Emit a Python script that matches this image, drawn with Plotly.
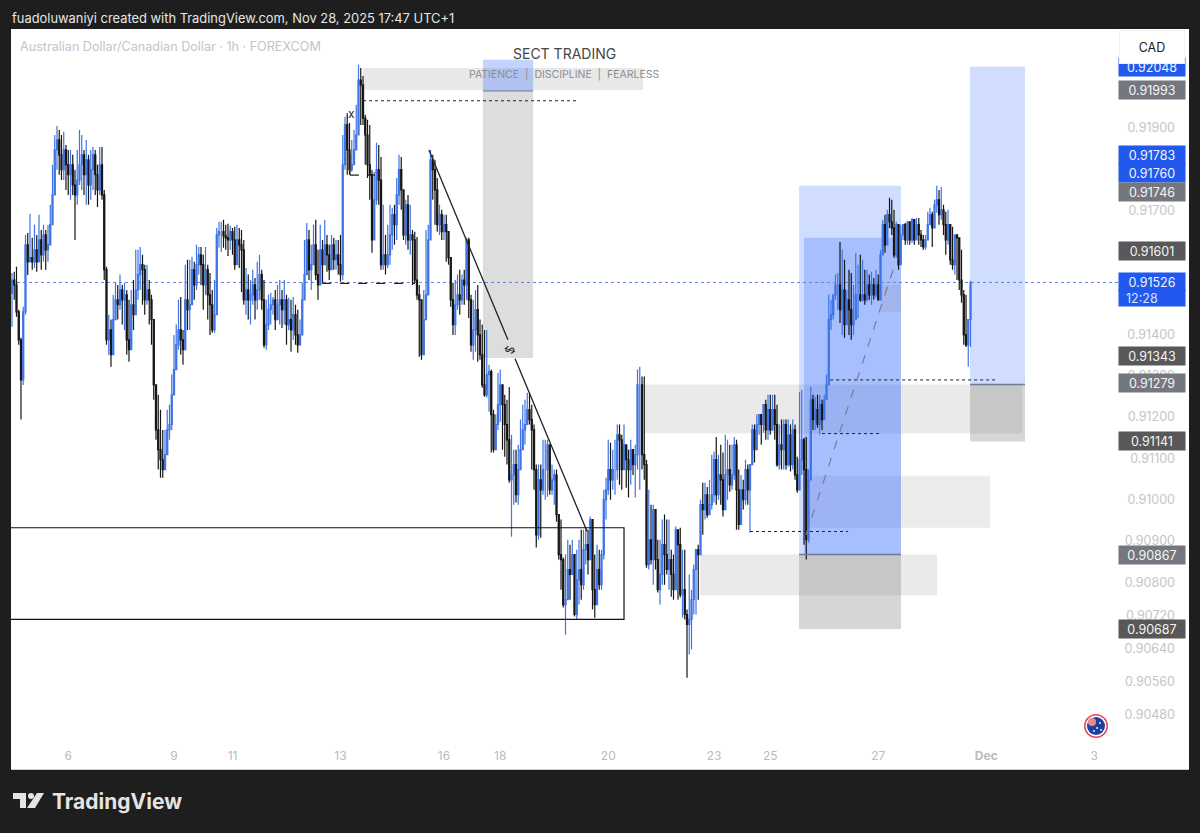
import plotly.graph_objects as go

# AUD/CAD 1h candles, price in points (1e-5), one row = 10 bars
close_a = [
    91532, 91520, 91455, 91387, 91290, 91455, 91617, 91576, 91586, 91576,
    91605, 91576, 91629, 91593, 91641, 91605, 91617, 91666, 91738, 91847,
    91871, 91835, 91799, 91847, 91811, 91787, 91811, 91762, 91738, 91774,
    91811, 91835, 91787, 91823, 91762, 91799, 91835, 91787, 91750, 91811,
    91738, 91557, 91387, 91411, 91351, 91436, 91484, 91472, 91508, 91484,
    91496, 91387, 91363, 91472, 91448, 91508, 91545, 91569, 91557, 91484,
    91508, 91484, 91436, 91278, 91169, 91121, 91097, 91073, 91109, 91169,
    91182, 91254, 91315, 91375, 91411, 91387, 91363, 91484, 91460, 91472,
    91557, 91520, 91569, 91593, 91569, 91520, 91557, 91496, 91472, 91411,
    91448, 91641, 91649, 91649, 91639, 91634, 91629, 91649, 91629, 91569,
    91629, 91617, 91605, 91484, 91508, 91484, 91496, 91520, 91484, 91508,
]
high_a = [
    91549, 91552, 91564, 91460, 91392, 91467, 91641, 91646, 91692, 91634,
    91666, 91641, 91690, 91653, 91666, 91653, 91666, 91714, 91811, 91883,
    91905, 91895, 91883, 91891, 91859, 91847, 91847, 91835, 91799, 91847,
    91895, 91883, 91847, 91871, 91835, 91847, 91854, 91847, 91811, 91854,
    91854, 91750, 91564, 91448, 91436, 91496, 91525, 91520, 91545, 91520,
    91525, 91508, 91484, 91508, 91532, 91605, 91605, 91612, 91593, 91569,
    91569, 91532, 91496, 91436, 91278, 91254, 91218, 91169, 91169, 91218,
    91230, 91303, 91399, 91424, 91484, 91491, 91411, 91569, 91581, 91581,
    91588, 91576, 91617, 91612, 91612, 91593, 91612, 91569, 91549, 91508,
    91532, 91658, 91673, 91673, 91678, 91666, 91668, 91663, 91658, 91661,
    91666, 91658, 91653, 91629, 91561, 91545, 91532, 91557, 91537, 91576,
]
low_a = [
    91419, 91484, 91443, 91375, 91194, 91278, 91448, 91544, 91576, 91557,
    91561, 91552, 91576, 91557, 91576, 91557, 91576, 91629, 91666, 91750,
    91799, 91787, 91774, 91774, 91750, 91738, 91726, 91738, 91629, 91714,
    91762, 91750, 91738, 91714, 91714, 91726, 91750, 91738, 91709, 91738,
    91726, 91532, 91375, 91351, 91322, 91387, 91436, 91436, 91460, 91424,
    91411, 91351, 91334, 91387, 91411, 91484, 91484, 91508, 91472, 91448,
    91472, 91424, 91375, 91242, 91145, 91073, 91053, 91053, 91077, 91145,
    91145, 91169, 91290, 91327, 91363, 91351, 91327, 91411, 91411, 91411,
    91501, 91484, 91508, 91545, 91520, 91460, 91496, 91436, 91399, 91404,
    91404, 91503, 91610, 91600, 91610, 91605, 91590, 91605, 91593, 91557,
    91576, 91561, 91503, 91472, 91448, 91436, 91424, 91472, 91436, 91460,
]

close_b = [
    91545, 91484, 91375, 91424, 91460, 91472, 91484, 91436, 91472, 91484,
    91460, 91484, 91424, 91436, 91411, 91448, 91399, 91375, 91399, 91484,
    91545, 91629, 91557, 91569, 91617, 91545, 91520, 91605, 91569, 91617,
    91593, 91557, 91617, 91581, 91593, 91569, 91545, 91811, 91908, 91847,
    91799, 91811, 91847, 91883, 92016, 92004, 91924, 91883, 91811, 91787,
    91629, 91726, 91799, 91774, 91569, 91593, 91569, 91593, 91641, 91690,
    91666, 91738, 91799, 91750, 91641, 91714, 91629, 91641, 91629, 91532,
    91496, 91484, 91351, 91436, 91496, 91629, 91823, 91799, 91750, 91666,
    91690, 91649, 91666, 91649, 91586, 91484, 91424, 91472, 91496, 91484,
    91532, 91520, 91629, 91484, 91375, 91411, 91460, 91399, 91351, 91278,
    91254, 91303, 91310, 91206, 91121, 91182, 91230, 91278, 91230, 91182,
]
high_b = [
    91593, 91557, 91532, 91484, 91496, 91501, 91491, 91508, 91520, 91532,
    91508, 91532, 91496, 91489, 91484, 91491, 91472, 91460, 91436, 91525,
    91629, 91670, 91653, 91617, 91666, 91678, 91605, 91666, 91629, 91678,
    91641, 91617, 91641, 91634, 91629, 91629, 91641, 91883, 91927, 91936,
    91912, 91871, 91895, 91956, 92053, 92045, 92026, 91932, 91920, 91907,
    91799, 91794, 91864, 91859, 91830, 91714, 91641, 91666, 91714, 91707,
    91714, 91779, 91835, 91830, 91743, 91726, 91738, 91714, 91653, 91649,
    91636, 91520, 91484, 91508, 91653, 91666, 91847, 91835, 91823, 91779,
    91714, 91702, 91690, 91690, 91636, 91581, 91525, 91532, 91545, 91557,
    91545, 91557, 91634, 91634, 91496, 91484, 91508, 91520, 91436, 91424,
    91411, 91411, 91327, 91315, 91218, 91206, 91307, 91315, 91254, 91254,
]
low_b = [
    91484, 91460, 91368, 91363, 91411, 91424, 91448, 91411, 91436, 91424,
    91416, 91424, 91375, 91411, 91358, 91387, 91375, 91356, 91387, 91399,
    91532, 91545, 91532, 91508, 91569, 91532, 91484, 91525, 91525, 91569,
    91552, 91532, 91569, 91557, 91557, 91545, 91528, 91532, 91799, 91787,
    91787, 91794, 91823, 91871, 91883, 91907, 91907, 91811, 91779, 91726,
    91598, 91629, 91714, 91714, 91557, 91557, 91545, 91561, 91569, 91605,
    91617, 91629, 91714, 91702, 91629, 91617, 91605, 91593, 91520, 91525,
    91484, 91346, 91339, 91436, 91484, 91629, 91738, 91726, 91666, 91649,
    91641, 91629, 91629, 91576, 91569, 91467, 91399, 91399, 91460, 91448,
    91472, 91472, 91484, 91440, 91358, 91339, 91358, 91334, 91339, 91271,
    91249, 91247, 91213, 91114, 91114, 91145, 91169, 91189, 91121, 91104,
]

close_c = [
    91145, 91048, 91060, 91085, 91012, 91073, 91121, 91169, 91182, 91218,
    91194, 91169, 91073, 90915, 91048, 91024, 91073, 91073, 91133, 91024,
    91048, 91060, 90964, 90867, 90855, 90746, 90758, 90831, 90819, 90867,
    90722, 90806, 90831, 90794, 90879, 90891, 90855, 90952, 90782, 90746,
    90831, 90794, 90867, 91000, 91024, 91073, 91048, 91073, 91073, 91157,
    91145, 91073, 91133, 91097, 91073, 91121, 91085, 91109, 91278, 91278,
    91109, 91085, 90843, 90903, 90855, 90976, 90855, 90782, 90819, 90891,
    90867, 90831, 90855, 90819, 90782, 90927, 90891, 90770, 90782, 90722,
    90698, 90710, 90758, 90831, 90879, 90867, 90988, 90976, 91012, 90964,
    90988, 91012, 91097, 91012, 91060, 91048, 90976, 91060, 91073, 91036,
    91060, 91133, 91024, 90940, 91024, 91000, 91073, 91024, 91085, 91169,
]
high_c = [
    91242, 91273, 91157, 91121, 91121, 91133, 91194, 91230, 91242, 91259,
    91259, 91230, 91182, 91085, 91085, 91085, 91145, 91145, 91145, 91133,
    91085, 91073, 91073, 90956, 90952, 90860, 90867, 90903, 90891, 90903,
    90867, 90879, 90903, 90927, 90927, 90932, 90927, 90959, 90891, 90867,
    90891, 90879, 90879, 91024, 91053, 91145, 91138, 91121, 91145, 91182,
    91182, 91157, 91182, 91121, 91121, 91145, 91121, 91133, 91315, 91322,
    91298, 91298, 91097, 91024, 90988, 90988, 90915, 90903, 90903, 90952,
    90964, 90952, 90952, 90879, 90867, 90935, 90927, 90932, 90879, 90879,
    90734, 90819, 90782, 90843, 90879, 90891, 91000, 91041, 91041, 91031,
    91048, 91109, 91116, 91152, 91109, 91133, 91114, 91157, 91145, 91133,
    91133, 91152, 91145, 91073, 91060, 91048, 91097, 91085, 91073, 91182,
]
low_c = [
    91085, 91041, 90910, 90988, 90993, 90988, 91073, 91121, 91133, 91182,
    91182, 91073, 91024, 90884, 90903, 90908, 91012, 91000, 91007, 91012,
    91012, 90988, 90947, 90855, 90782, 90739, 90673, 90758, 90758, 90819,
    90717, 90710, 90746, 90758, 90782, 90843, 90819, 90874, 90734, 90714,
    90770, 90782, 90782, 90855, 90952, 91012, 91000, 91024, 91012, 91048,
    91036, 91024, 91077, 91029, 91005, 91036, 91060, 91005, 91073, 91024,
    91073, 91048, 90835, 90831, 90843, 90794, 90831, 90775, 90746, 90794,
    90794, 90819, 90782, 90765, 90758, 90782, 90758, 90763, 90714, 90710,
    90569, 90625, 90637, 90722, 90722, 90758, 90872, 90915, 90952, 90956,
    90964, 90976, 90993, 90988, 91000, 90988, 90959, 91000, 91000, 91019,
    91024, 91048, 90927, 90927, 90964, 90976, 90988, 90988, 90920, 91090,
]

close_d = [
    91121, 91182, 91206, 91182, 91230, 91169, 91218, 91169, 91218, 91182,
    91085, 91133, 91121, 91182, 91085, 91157, 91085, 91169, 91060, 91024,
    91097, 91145, 91073, 90903, 91048, 91242, 91194, 91218, 91182, 91230,
    91194, 91242, 91278, 91436, 91448, 91496, 91520, 91520, 91460, 91508,
    91424, 91484, 91460, 91424, 91436, 91496, 91496, 91484, 91496, 91484,
    91520, 91496, 91520, 91496, 91520, 91484, 91593, 91666, 91617, 91690,
    91673, 91658, 91593, 91666, 91569, 91641, 91666, 91629, 91673, 91629,
    91678, 91629, 91666, 91641, 91629, 91612, 91629, 91666, 91690, 91658,
    91714, 91726, 91690, 91702, 91666, 91629, 91666, 91581, 91569, 91641,
    91634, 91532, 91496, 91399, 91375, 91436, 91526,
]
high_d = [
    91182, 91206, 91206, 91198, 91230, 91242, 91254, 91254, 91254, 91254,
    91230, 91182, 91194, 91194, 91194, 91194, 91182, 91194, 91182, 91104,
    91261, 91266, 91150, 91152, 91073, 91273, 91254, 91249, 91254, 91254,
    91242, 91254, 91303, 91496, 91484, 91496, 91545, 91549, 91624, 91605,
    91581, 91508, 91557, 91549, 91520, 91598, 91569, 91593, 91581, 91557,
    91557, 91545, 91552, 91537, 91557, 91545, 91605, 91678, 91690, 91702,
    91731, 91726, 91702, 91673, 91666, 91666, 91666, 91670, 91673, 91666,
    91682, 91666, 91682, 91682, 91653, 91641, 91641, 91697, 91707, 91697,
    91726, 91760, 91750, 91757, 91714, 91697, 91702, 91666, 91661, 91639,
    91639, 91617, 91605, 91508, 91496, 91436, 91530,
]
low_d = [
    91090, 91145, 91157, 91133, 91162, 91145, 91145, 91157, 91182, 91145,
    91080, 91073, 91073, 91073, 91073, 91080, 91068, 91073, 91048, 91017,
    91073, 91060, 90891, 90855, 90896, 91065, 91169, 91169, 91174, 91157,
    91169, 91230, 91242, 91399, 91411, 91436, 91484, 91460, 91428, 91399,
    91392, 91424, 91399, 91387, 91399, 91436, 91440, 91479, 91479, 91472,
    91479, 91484, 91472, 91484, 91489, 91484, 91489, 91598, 91598, 91653,
    91658, 91641, 91586, 91586, 91557, 91629, 91629, 91617, 91617, 91617,
    91622, 91617, 91629, 91617, 91612, 91605, 91605, 91649, 91666, 91612,
    91682, 91695, 91666, 91678, 91641, 91593, 91617, 91569, 91557, 91545,
    91532, 91508, 91477, 91375, 91370, 91322, 91370,
]

# axes
y_ticks = [0.919, 0.917, 0.914, 0.913, 0.912, 0.911, 0.91, 0.909, 0.908, 0.9072, 0.9064, 0.9056, 0.9048]
date_ticks = [25, 72, 98, 146, 192, 217, 265, 312, 337, 385, 433, 481]
date_labels = ["6", "9", "11", "13", "16", "18", "20", "23", "25", "27", "<b>Dec</b>", "3"]

# price badges on the axis: value, colour, how far TradingView pushed the label up
badge_values = [0.92048, 0.91993, 0.91783, 0.91760, 0.91746, 0.91601, 0.91526, 0.91343, 0.91279, 0.91141, 0.90867, 0.90687]
badge_kinds = ["blue", "gray", "blue", "blue", "gray", "dark", "blue", "dark", "gray", "dark", "gray", "dark"]
badge_push = [0, 0, 21, 13, 0, 0, 0, 2, 1, 0, 0, 0]
badge_colors = {"blue": "#2159ef", "gray": "#75777f", "dark": "#585858"}

# drawings in chart coordinates: bar0, bar1, price0, price1, fill
zones = [
    (156, 280.5, 0.92045, 0.91992, "rgba(150,150,150,0.22)"),
    (209.3, 231.6, 0.91990, 0.91343, "rgba(120,120,120,0.25)"),
    (209.3, 231.6, 0.92065, 0.91990, "rgba(41,98,255,0.28)"),
    (281.3, 449, 0.91279, 0.91160, "rgba(150,150,150,0.2)"),
    (353.8, 434.7, 0.91058, 0.90932, "rgba(150,150,150,0.18)"),
    (305.8, 411.1, 0.90867, 0.90768, "rgba(150,150,150,0.2)"),
    (349.8, 395.1, 0.91760, 0.90867, "rgba(41,98,255,0.22)"),
    (352, 395.1, 0.91634, 0.90867, "rgba(41,98,255,0.24)"),
    (386, 395.1, 0.91520, 0.91455, "rgba(120,120,120,0.15)"),
    (349.8, 395.1, 0.90867, 0.90687, "rgba(120,120,120,0.3)"),
    (425.8, 450.2, 0.92048, 0.91279, "rgba(41,98,255,0.22)"),
    (425.8, 450.2, 0.91279, 0.91141, "rgba(120,120,120,0.3)"),
]
# bar0, bar1, price0, price1, colour, width, dash
lines = [
    (209.3, 231.6, 0.91990, 0.91990, "#7184ad", 1.2, "solid"),
    (349.8, 395.1, 0.90867, 0.90867, "#6d7a9c", 1.5, "solid"),
    (425.8, 450.2, 0.91279, 0.91279, "#6d7a9c", 1.5, "solid"),
    (156, 250.7, 0.91966, 0.91966, "#222222", 1, "dot"),
    (137.8, 179.1, 0.91524, 0.91524, "#222222", 1.2, "dash"),
    (150.2, 161.3, 0.91786, 0.91786, "#222222", 1.2, "dash"),
    (150.2, 150.2, 0.91835, 0.91786, "#222222", 1.2, "solid"),
    (363.6, 436.9, 0.91290, 0.91290, "#222222", 1, "dot"),
    (360, 386.7, 0.91160, 0.91160, "#222222", 1, "dot"),
    (328, 371.6, 0.90923, 0.90923, "#222222", 1, "dot"),
    (352.9, 391.6, 0.90915, 0.91557, "#7a7f8c", 1.2, "dash"),
    (185.3, 220.4, 0.91847, 0.91387, "#222222", 1.3, "solid"),
    (223.6, 255.6, 0.91341, 0.90923, "#222222", 1.3, "solid"),
]

highs = high_a + high_b + high_c + high_d
lows = low_a + low_b + low_c + low_d
closes = close_a + close_b + close_c + close_d
# fx bars open where the previous one closed
opens = [91500] + closes[:-1]
bars = list(range(len(closes)))


def to_price(points):
    return [p / 100000 for p in points]


def px_x(px):
    return px / 1200


def px_y(py):
    return 1 - py / 833


def poly(points):
    return "M " + " L ".join(f"{px_x(x)} {px_y(y)}" for x, y in points) + " Z"


def circle(cx, cy, r, fill):
    return dict(type="circle", xref="paper", yref="paper", x0=px_x(cx - r), x1=px_x(cx + r),
                y0=px_y(cy + r), y1=px_y(cy - r), fillcolor=fill, line_width=0, layer="above")


fig = go.Figure()
fig.add_trace(go.Candlestick(
    x=bars, open=to_price(opens), high=to_price(highs), low=to_price(lows), close=to_price(closes),
    increasing=dict(line=dict(color="#3f74e6", width=1.2), fillcolor="#2a62f0"),
    decreasing=dict(line=dict(color="#161616", width=1.2), fillcolor="#111111"),
    whiskerwidth=0, showlegend=False, hoverinfo="skip",
))

shapes = []
for x0, x1, p0, p1, fill in zones:
    shapes.append(dict(type="rect", xref="x", yref="y", x0=x0, x1=x1, y0=p0, y1=p1,
                       fillcolor=fill, line_width=0, layer="below"))
for x0, x1, p0, p1, color, width, dash in lines:
    shapes.append(dict(type="line", xref="x", yref="y", x0=x0, x1=x1, y0=p0, y1=p1,
                       line=dict(color=color, width=width, dash=dash), layer="above"))
# black box and the last price line
shapes.append(dict(type="rect", xref="x", yref="y", x0=-5, x1=272, y0=0.90932, y1=0.90710,
                   line=dict(color="#111111", width=1.2), layer="above"))
shapes.append(dict(type="line", xref="x", yref="y", x0=-0.44, x1=491.6, y0=closes[-1] / 100000, y1=closes[-1] / 100000,
                   line=dict(color="#5b84e0", width=1, dash="dot"), layer="below"))

# TradingView logo
logo = "#e4e4e4"
for pts in [
    [(13, 793), (26, 793), (26, 808), (20, 808), (20, 799), (13, 799)],
    [(37, 793), (44, 793), (35, 808), (27, 808)],
]:
    shapes.append(dict(type="path", xref="paper", yref="paper", path=poly(pts), fillcolor=logo, line_width=0, layer="above"))
shapes.append(dict(type="circle", xref="paper", yref="paper", x0=px_x(28), x1=px_x(34), y0=px_y(799), y1=px_y(793),
                   fillcolor=logo, line_width=0, layer="above"))

# australian flag marker
shapes.append(circle(1096, 726, 12, "#e2485f"))
shapes.append(circle(1096, 726, 10.5, "#ffffff"))
shapes.append(circle(1096, 726, 9, "#1d409c"))
shapes.append(circle(1092, 722, 4, "#e88a8f"))
for sx, sy in [(1097, 728), (1100, 723), (1094, 731), (1101, 730)]:
    shapes.append(circle(sx, sy, 0.9, "#ffffff"))

annotations = []


def add_text(text, px, py, size, color, anchor="left", family="Inter"):
    annotations.append(dict(text=text, xref="paper", yref="paper", x=px_x(px), y=px_y(py), xanchor=anchor,
                            yanchor="middle", showarrow=False, font=dict(family=family, size=size, color=color)))


add_text("fuadoluwaniyi created with TradingView.com, Nov 28, 2025 17:47 UTC+1", 10, 19, 12.9, "#e6e6e6")
add_text("Australian Dollar/Canadian Dollar · 1h · FOREXCOM", 18, 47, 12.6, "#c3c4c8")
add_text("SECT TRADING", 564, 53, 14, "#454545", anchor="center")
add_text("PATIENCE  |  DISCIPLINE  |  FEARLESS", 564, 74, 10.5, "#8b8d93", anchor="center")
add_text("<b>TradingView</b>", 50, 801, 21, "#e4e4e4")

for value, kind, push in zip(badge_values, badge_kinds, badge_push):
    annotations.append(dict(text=f"{value:.5f}", xref="paper", yref="y", x=px_x(1118), y=value, xanchor="left",
                            yanchor="middle", yshift=push, width=66, height=18, align="center", showarrow=False,
                            bgcolor=badge_colors[kind], borderpad=0, font=dict(family="Inter", size=12.5, color="#f4f4f4")))
# countdown under the last price
annotations.append(dict(text="  12:28", xref="paper", yref="y", x=px_x(1118), y=closes[-1] / 100000, xanchor="left",
                        yanchor="middle", yshift=-16, width=66, height=16, align="left", showarrow=False,
                        bgcolor=badge_colors["blue"], borderpad=0, font=dict(family="Inter", size=12.5, color="#d7e2ff")))
# currency box sits on top of the clipped badge
annotations.append(dict(text="CAD", xref="paper", yref="paper", x=px_x(1152), y=px_y(47), xanchor="center", yanchor="middle",
                        width=62, height=30, align="center", showarrow=False, bgcolor="#ffffff", bordercolor="#f2f2f2",
                        borderwidth=1, font=dict(family="Inter", size=12.5, color="#1b1b1b")))
annotations.append(dict(text="x", xref="x", yref="y", x=151, y=0.91934, showarrow=False,
                        font=dict(family="Inter", size=12, color="#222222")))
annotations.append(dict(text="$", xref="x", yref="y", x=221.3, y=0.91363, showarrow=False, textangle=-70,
                        font=dict(family="Inter", size=12, color="#222222")))

fig.update_layout(
    width=1200, height=833, autosize=False,
    margin=dict(l=0, r=0, t=0, b=0),
    paper_bgcolor="#1e1e1e", plot_bgcolor="#ffffff",
    shapes=shapes, annotations=annotations, showlegend=False,
)
fig.update_xaxes(
    domain=[px_x(11), px_x(1189)], range=[-0.44, 523.1], rangeslider_visible=False,
    tickmode="array", tickvals=date_ticks, ticktext=date_labels, ticks="", showgrid=False, zeroline=False,
    ticklabelposition="inside", ticklabelstandoff=6, tickfont=dict(family="Inter", size=12, color="#b9bbc0"),
    showline=True, linecolor="#c9c9c9", linewidth=1,
)
fig.update_yaxes(
    domain=[px_y(769), px_y(29)], range=[0.903479, 0.921397], side="right",
    tickmode="array", tickvals=y_ticks, ticktext=[f"{t:.5f}" for t in y_ticks], ticks="", showgrid=False, zeroline=False,
    ticklabelposition="inside", ticklabelstandoff=11, tickfont=dict(family="Inter", size=12.5, color="#c4c5c9"),
)

# page margin would push the figure 8px off the frame
fig.write_html("out.html", config={"displayModeBar": False},
               post_script="document.body.style.margin='0';document.body.style.overflow='hidden';")
